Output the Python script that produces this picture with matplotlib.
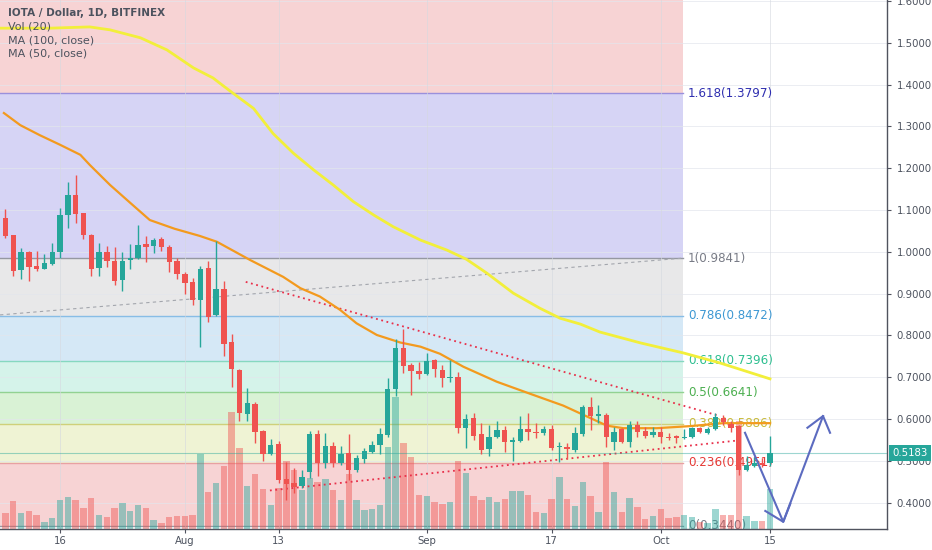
import numpy as np
import matplotlib
matplotlib.use("Agg")
import matplotlib.pyplot as plt
import matplotlib.transforms as mtransforms

# day index counted from Jul 16 (day 0) -> Jul 9 .. Oct 15
days = np.arange(-7, 92)

opens = [1.080, 1.039, 0.957, 1.000, 0.966, 0.959, 0.971,
         1.000, 1.088, 1.137, 1.092, 1.041, 0.961, 0.999, 0.979, 0.933, 0.980,
         0.984, 1.018, 1.014, 1.030, 1.012, 0.978, 0.946, 0.928, 0.885, 0.961,
         0.849, 0.912, 0.783, 0.717, 0.612, 0.636, 0.571, 0.516, 0.540, 0.456,
         0.448, 0.440, 0.473, 0.564, 0.494, 0.536, 0.494, 0.518, 0.477, 0.504,
         0.520, 0.538, 0.562, 0.671, 0.769, 0.728, 0.716, 0.708, 0.741, 0.717,
         0.698, 0.701, 0.578, 0.603, 0.564, 0.528, 0.556, 0.574, 0.544, 0.548,
         0.576, 0.570, 0.566, 0.576, 0.533, 0.534, 0.526, 0.565, 0.628, 0.607,
         0.610, 0.546, 0.576, 0.544, 0.586, 0.572, 0.562, 0.568, 0.558, 0.560,
         0.554, 0.556, 0.578, 0.566, 0.576, 0.602, 0.588, 0.584, 0.478, 0.488,
         0.494, 0.494]
highs = [1.102, 1.040, 1.008, 1.003, 1.003, 0.994, 1.020,
         1.104, 1.168, 1.184, 1.094, 1.043, 1.020, 1.014, 1.011, 1.000, 1.018,
         1.064, 1.038, 1.032, 1.036, 1.016, 0.985, 0.952, 0.937, 0.966, 0.979,
         1.027, 0.929, 0.804, 0.719, 0.674, 0.641, 0.574, 0.551, 0.548, 0.498,
         0.483, 0.478, 0.572, 0.574, 0.567, 0.545, 0.536, 0.564, 0.514, 0.530,
         0.548, 0.578, 0.697, 0.791, 0.815, 0.735, 0.737, 0.759, 0.743, 0.729,
         0.741, 0.713, 0.612, 0.614, 0.590, 0.586, 0.596, 0.583, 0.556, 0.606,
         0.615, 0.590, 0.583, 0.586, 0.546, 0.543, 0.580, 0.634, 0.652, 0.634,
         0.615, 0.580, 0.578, 0.596, 0.596, 0.580, 0.582, 0.582, 0.566, 0.562,
         0.576, 0.582, 0.582, 0.582, 0.614, 0.610, 0.595, 0.586, 0.512, 0.510,
         0.507, 0.559]
lows = [1.032, 0.943, 0.935, 0.929, 0.955, 0.958, 0.968,
        0.986, 1.056, 1.070, 1.030, 0.941, 0.943, 0.963, 0.920, 0.907, 0.960,
        0.982, 0.975, 0.998, 1.003, 0.951, 0.934, 0.899, 0.873, 0.773, 0.833,
        0.846, 0.750, 0.677, 0.595, 0.595, 0.543, 0.500, 0.514, 0.447, 0.406,
        0.422, 0.434, 0.459, 0.463, 0.482, 0.484, 0.490, 0.454, 0.474, 0.494,
        0.518, 0.516, 0.558, 0.654, 0.709, 0.658, 0.695, 0.705, 0.701, 0.676,
        0.689, 0.566, 0.530, 0.550, 0.516, 0.512, 0.554, 0.522, 0.500, 0.546,
        0.550, 0.555, 0.562, 0.526, 0.498, 0.504, 0.522, 0.559, 0.574, 0.590,
        0.534, 0.526, 0.542, 0.533, 0.557, 0.554, 0.557, 0.542, 0.550, 0.542,
        0.552, 0.554, 0.566, 0.564, 0.574, 0.586, 0.569, 0.466, 0.476, 0.485,
        0.484, 0.488]
closes = [1.038, 0.955, 1.000, 0.964, 0.960, 0.972, 1.000,
          1.088, 1.137, 1.090, 1.040, 0.959, 1.000, 0.979, 0.930, 0.979, 0.985,
          1.016, 1.011, 1.029, 1.011, 0.975, 0.947, 0.925, 0.885, 0.960, 0.845,
          0.910, 0.780, 0.719, 0.614, 0.638, 0.570, 0.516, 0.538, 0.454, 0.444,
          0.438, 0.462, 0.563, 0.494, 0.536, 0.494, 0.516, 0.477, 0.506, 0.524,
          0.538, 0.564, 0.671, 0.769, 0.727, 0.715, 0.708, 0.739, 0.719, 0.697,
          0.701, 0.578, 0.601, 0.560, 0.526, 0.556, 0.573, 0.544, 0.549, 0.576,
          0.568, 0.566, 0.577, 0.531, 0.536, 0.529, 0.566, 0.628, 0.607, 0.611,
          0.558, 0.570, 0.546, 0.586, 0.570, 0.560, 0.568, 0.558, 0.555, 0.554,
          0.556, 0.578, 0.568, 0.576, 0.604, 0.592, 0.579, 0.478, 0.490, 0.494,
          0.490, 0.5183]
volume = [16, 28, 16, 18, 14, 7, 11,
          29, 32, 29, 21, 31, 14, 12, 21, 26, 18,
          24, 21, 9, 6, 12, 13, 13, 14, 75, 37,
          46, 63, 117, 81, 43, 55, 40, 24, 41, 68,
          59, 39, 51, 47, 50, 39, 29, 55, 29, 19,
          20, 24, 82, 132, 86, 72, 34, 33, 27, 25,
          27, 68, 56, 33, 29, 32, 27, 30, 38, 38,
          34, 17, 16, 30, 52, 30, 23, 47, 33, 17,
          67, 37, 17, 31, 22, 10, 13, 20, 11, 12,
          14, 12, 7, 6, 20, 14, 14, 108, 13, 8,
          8, 40]

ma100_days = [-7.7, -1.3, 3.8, 6.4, 10.3, 13.7, 17.1, 19.6, 20.5, 22.2, 24.8,
              27.3, 29.9, 32.5, 35.0, 37.6, 40.2, 42.7, 46.2, 49.6, 52.1, 54.7,
              58.1, 61.5, 64.1, 66.7, 69.2, 74.4, 79.9, 84.6, 91.0]
ma100_vals = [1.535, 1.535, 1.538, 1.531, 1.512, 1.483, 1.440, 1.416, 1.403,
              1.379, 1.343, 1.283, 1.236, 1.196, 1.160, 1.120, 1.088, 1.060,
              1.028, 1.004, 0.982, 0.949, 0.901, 0.865, 0.841, 0.827, 0.808,
              0.782, 0.758, 0.734, 0.696]
ma50_days = [-7.2, -5.1, -2.6, 0.0, 2.6, 3.8, 6.4, 9.0, 11.5, 14.7, 17.9, 20.1,
             24.4, 28.6, 30.8, 33.3, 35.9, 38.0, 40.6, 43.6, 46.2, 48.7, 51.7,
             56.0, 60.3, 64.5, 68.0, 70.1, 72.2, 76.5, 80.8, 85.0, 91.0]
ma50_vals = [1.332, 1.303, 1.279, 1.256, 1.232, 1.208, 1.160, 1.117, 1.076,
             1.055, 1.038, 1.024, 0.980, 0.940, 0.913, 0.893, 0.861, 0.829,
             0.801, 0.783, 0.773, 0.756, 0.725, 0.689, 0.660, 0.632, 0.602,
             0.584, 0.578, 0.578, 0.583, 0.590, 0.590]

fib_ratios = [0, 0.236, 0.382, 0.5, 0.618, 0.786, 1, 1.618, 2.618]
fib_prices = [0.3440, 0.4951, 0.5886, 0.6641, 0.7396, 0.8472, 0.9841, 1.3797, 2.0198]
fib_band_colors = ["#f7d3d4", "#eff3d4", "#d9f2d5", "#d5f3ea", "#d5e8f6",
                   "#e8e8e9", "#d6d4f5", "#f7d3d4"]
fib_line_colors = ["#9598a1", "#e8a0a2", "#cfd07a", "#92d292", "#86d8c0",
                   "#88bde6", "#9598a1", "#9a90dc", "#e8a0a2"]
fib_text_colors = ["#787b86", "#e53935", "#c9bb3a", "#4caf50", "#2ebf90",
                   "#3d98d3", "#787b86", "#2f2fb0", "#e53935"]
fib_start, fib_end = -12.0, 79.9

# drawn trend lines / arrow (day, price)
grey_line = ([-7.7, 79.9], [0.849, 0.985])
upper_line = ([23.8, 84.6], [0.928, 0.607])
lower_line = ([26.9, 87.6], [0.429, 0.550])
arrow_days = [87.8, 92.7, 97.8]
arrow_vals = [0.567, 0.354, 0.607]
head_down = ([90.4, 92.7, 93.6], [0.380, 0.354, 0.397])
head_up = ([95.8, 97.8, 98.7], [0.579, 0.607, 0.567])

tick_days = [0, 16, 28, 47, 63, 77, 91]
tick_names = ["16", "Aug", "13", "Sep", "17", "Oct", "15"]
price_ticks = [0.4, 0.5, 0.6, 0.7, 0.8, 0.9, 1.0, 1.1, 1.2, 1.3, 1.4, 1.5, 1.6]
last_price = 0.5183

UP, DOWN = "#26a69a", "#ef5350"
TXT = "#4c525e"

fig = plt.figure(figsize=(9.32, 5.5), dpi=100)
ax = fig.add_axes([0, 21 / 550, 887 / 932, 529 / 550])
ax.set_xlim(-7.7, 106.0)
ax.set_ylim(0.3368, 1.6024)

# fibonacci bands
for i in range(len(fib_prices) - 1):
    ax.fill_between([fib_start, fib_end], fib_prices[i], fib_prices[i + 1],
                    color=fib_band_colors[i], lw=0, zorder=0.5)
for r, p, lc, tc in zip(fib_ratios, fib_prices, fib_line_colors, fib_text_colors):
    ax.plot([fib_start, fib_end], [p, p], color=lc, lw=1, zorder=0.8)
    if p < 1.6:
        ax.text(fib_end + 0.6, p, f"{r:g}({p:.4f})", color=tc, fontsize=8.6,
                va="center", ha="left", zorder=1, clip_on=True)

# grid
for t in price_ticks:
    ax.axhline(t, color="#e3e6ec", lw=0.7, alpha=0.7, zorder=0.9)
for t in tick_days:
    ax.axvline(t, color="#d5d9e0", lw=0.7, alpha=0.6, zorder=0.9)

# volume pane (shares the price axes, 529 units = full height)
vol_trans = mtransforms.Affine2D().scale(1, 1 / 529) + \
    mtransforms.blended_transform_factory(ax.transData, ax.transAxes)
o = np.array(opens)
c = np.array(closes)
up = c >= o
bar_colors = np.where(up, UP, DOWN)
ax.bar(days, volume, width=0.82, bottom=0, color=bar_colors, alpha=0.45,
       transform=vol_trans, zorder=2, lw=0)

# moving averages and drawings
ax.plot(ma100_days, ma100_vals, color="#f2ef3a", lw=2.0, zorder=3.5,
        solid_joinstyle="round")
ax.plot(ma50_days, ma50_vals, color="#f39a1e", lw=1.6, zorder=3.6,
        solid_joinstyle="round")
ax.plot(*grey_line, color="#a3a6ad", lw=0.8, dashes=(3, 3), zorder=3)
ax.plot(*upper_line, color="#e8304a", lw=1.3, ls=(0, (1, 2)), zorder=3)
ax.plot(*lower_line, color="#e8304a", lw=1.3, ls=(0, (1, 2)), zorder=3)
ax.axhline(last_price, color=UP, lw=0.8, alpha=0.45, zorder=3)

# candles
ax.vlines(days, lows, highs, colors=bar_colors, lw=1, zorder=4)
body = np.maximum(np.abs(c - o), 0.0018)
ax.bar(days, body, bottom=np.minimum(o, c), width=0.68, color=bar_colors,
       lw=0, zorder=5)

ax.plot(arrow_days, arrow_vals, color="#5c6bc0", lw=1.5, zorder=6)
ax.plot(*head_down, color="#5c6bc0", lw=1.5, zorder=6)
ax.plot(*head_up, color="#5c6bc0", lw=1.5, zorder=6)

# axes styling
for s in ["left", "top"]:
    ax.spines[s].set_visible(False)
for s in ["right", "bottom"]:
    ax.spines[s].set_color("#50535e")
    ax.spines[s].set_linewidth(1)
ax.yaxis.tick_right()
ax.set_yticks(price_ticks)
ax.set_yticklabels([f"{t:.4f}" for t in price_ticks])
ax.set_xticks(tick_days)
ax.set_xticklabels(tick_names)
ax.tick_params(axis="both", colors="#50535e", labelcolor=TXT, labelsize=7.3,
               length=3, width=0.8)
ax.tick_params(axis="y", pad=4)
ax.tick_params(axis="x", pad=2)

# last price tag
lab_trans = mtransforms.blended_transform_factory(ax.transAxes, ax.transData)
ax.text(1.006, last_price, f"{last_price:.4f}", transform=lab_trans, color="white",
        fontsize=7.3, va="center", ha="left", clip_on=False, zorder=10,
        bbox=dict(boxstyle="square,pad=0.3", fc=UP, ec="none"))

# header text
ax.text(0.009, 0.975, "IOTA / Dollar, 1D, BITFINEX", transform=ax.transAxes,
        fontsize=7.5, fontweight="bold", color=TXT, va="center", zorder=10)
for txt, yy in [("Vol (20)", 0.949), ("MA (100, close)", 0.9235),
                ("MA (50, close)", 0.898)]:
    ax.text(0.009, yy, txt, transform=ax.transAxes, fontsize=8, color=TXT,
            va="center", zorder=10)

fig.savefig("out.png", dpi=100)
